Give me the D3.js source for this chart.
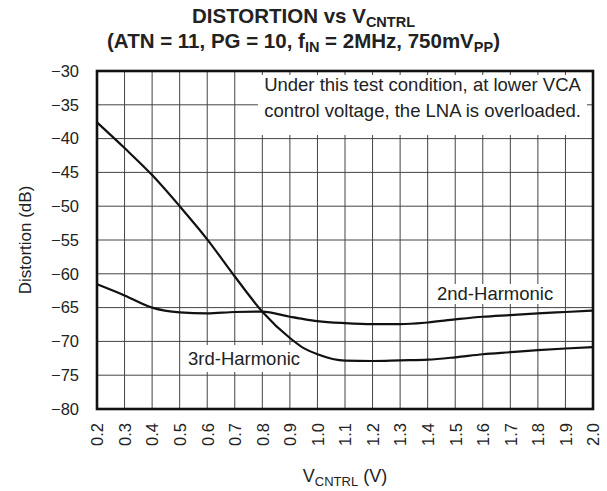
<!DOCTYPE html>
<html>
<head>
<meta charset="utf-8">
<script src="https://cdn.jsdelivr.net/npm/d3@7"></script>
<style>
  html, body { margin: 0; padding: 0; background: #fff; }
  svg text { font-family: "Liberation Sans", Arial, Helvetica, sans-serif; fill: #222; }
</style>
</head>
<body>
<svg id="chart" width="607" height="491"></svg>
<script>
// Control voltage samples (V)
const vcntrl = [0.2, 0.3, 0.4, 0.5, 0.6, 0.7, 0.8, 0.9, 0.95, 1.0, 1.1, 1.2, 1.3, 1.4, 1.5, 1.6, 1.7, 1.8, 1.9, 2.0];
// Harmonic distortion (dB)
const secondHarmonic = [-61.55, -63.2, -65.0, -65.7, -65.85, -65.65, -65.6, -66.35, -66.7, -67.0, -67.3, -67.45, -67.45, -67.2, -66.75, -66.35, -66.1, -65.85, -65.65, -65.45];
const thirdHarmonic  = [-37.6, -41.4, -45.4, -50.0, -54.9, -60.4, -65.6, -69.5, -71.0, -71.9, -72.85, -72.9, -72.8, -72.7, -72.35, -71.9, -71.6, -71.3, -71.05, -70.85];
// Axis ticks
const xTicks = [0.2, 0.3, 0.4, 0.5, 0.6, 0.7, 0.8, 0.9, 1.0, 1.1, 1.2, 1.3, 1.4, 1.5, 1.6, 1.7, 1.8, 1.9, 2.0];
const yTicks = [-30, -35, -40, -45, -50, -55, -60, -65, -70, -75, -80];

const svg = d3.select("#chart");
const plotL = 97, plotR = 593, plotT = 71, plotB = 409;

const x = d3.scaleLinear().domain([0.2, 2.0]).range([plotL, plotR]);
const y = d3.scaleLinear().domain([-80, -30]).range([plotB, plotT]);

// Grid
const grid = svg.append("g");
grid.selectAll("line.v").data(xTicks).join("line")
  .attr("x1", d => x(d)).attr("x2", d => x(d))
  .attr("y1", plotT).attr("y2", plotB)
  .attr("stroke", "#444").attr("stroke-width", 1);
grid.selectAll("line.h").data(yTicks).join("line")
  .attr("x1", plotL).attr("x2", plotR)
  .attr("y1", d => y(d)).attr("y2", d => y(d))
  .attr("stroke", "#444").attr("stroke-width", 1);

// Label backgrounds knock out the grid
const bg = svg.append("g");
bg.append("rect").attr("x", 258).attr("y", 75).attr("width", 329).attr("height", 60).attr("fill", "#fff");
bg.append("rect").attr("x", 432).attr("y", 284).attr("width", 126).attr("height", 20).attr("fill", "#fff");
bg.append("rect").attr("x", 182).attr("y", 345).attr("width", 133).attr("height", 27).attr("fill", "#fff");

// Curves
const line = d3.line()
  .x((d, i) => x(vcntrl[i]))
  .y(d => y(d))
  .curve(d3.curveMonotoneX);
[secondHarmonic, thirdHarmonic].forEach(series => {
  svg.append("path").attr("d", line(series))
    .attr("fill", "none").attr("stroke", "#111").attr("stroke-width", 2.2);
});

// Frame
svg.append("rect").attr("x", plotL).attr("y", plotT)
  .attr("width", plotR - plotL).attr("height", plotB - plotT)
  .attr("fill", "none").attr("stroke", "#111").attr("stroke-width", 2.6);

// Axes (labels only; the frame and grid draw the lines)
const xAxis = svg.append("g").attr("transform", `translate(0,${plotB})`)
  .call(d3.axisBottom(x).tickValues(xTicks).tickFormat(d3.format(".1f")).tickSize(0));
xAxis.select(".domain").remove();
xAxis.selectAll("text")
  .attr("transform", "rotate(-90)")
  .attr("text-anchor", "end")
  .attr("x", -14).attr("y", 0).attr("dy", "0.35em")
  .style("font-size", "16.5px");

const yAxis = svg.append("g").attr("transform", `translate(${plotL},0)`)
  .call(d3.axisLeft(y).tickValues(yTicks).tickFormat(d => "\u2212" + Math.abs(d)).tickSize(0));
yAxis.select(".domain").remove();
yAxis.selectAll("text").attr("x", -18).style("font-size", "16.5px");

// Axis titles
svg.append("text")
  .attr("transform", `translate(25,${(plotT + plotB) / 2}) rotate(-90)`)
  .attr("text-anchor", "middle").attr("dy", "0.35em")
  .style("font-size", "17px").text("Distortion (dB)");

const xt = svg.append("text").attr("x", (plotL + plotR) / 2).attr("y", 482)
  .attr("text-anchor", "middle").style("font-size", "18px");
xt.append("tspan").text("V");
xt.append("tspan").attr("dy", 4).style("font-size", "13px").text("CNTRL");
xt.append("tspan").attr("dy", -4).text(" (V)");

// Title
const t1 = svg.append("text").attr("x", 303.5).attr("y", 23)
  .attr("text-anchor", "middle").style("font-size", "20.5px").style("font-weight", "bold");
t1.append("tspan").text("DISTORTION vs V");
t1.append("tspan").attr("dy", 4).style("font-size", "14.5px").text("CNTRL");

const t2 = svg.append("text").attr("x", 303.5).attr("y", 48)
  .attr("text-anchor", "middle").style("font-size", "20.5px").style("font-weight", "bold");
t2.append("tspan").text("(ATN = 11, PG = 10, f");
t2.append("tspan").attr("dy", 4).style("font-size", "14.5px").text("IN");
t2.append("tspan").attr("dy", -4).text(" = 2MHz, 750mV");
t2.append("tspan").attr("dy", 4).style("font-size", "14.5px").text("PP");
t2.append("tspan").attr("dy", -4).text(")");

// Annotations
svg.append("text").attr("x", 422.5).attr("y", 91).attr("text-anchor", "middle")
  .style("font-size", "18.5px").text("Under this test condition, at lower VCA");
svg.append("text").attr("x", 422.5).attr("y", 117).attr("text-anchor", "middle")
  .style("font-size", "18.5px").text("control voltage, the LNA is overloaded.");
svg.append("text").attr("x", 437).attr("y", 300)
  .style("font-size", "18.5px").text("2nd-Harmonic");
svg.append("text").attr("x", 188).attr("y", 365)
  .style("font-size", "18.5px").text("3rd-Harmonic");
</script>
</body>
</html>
